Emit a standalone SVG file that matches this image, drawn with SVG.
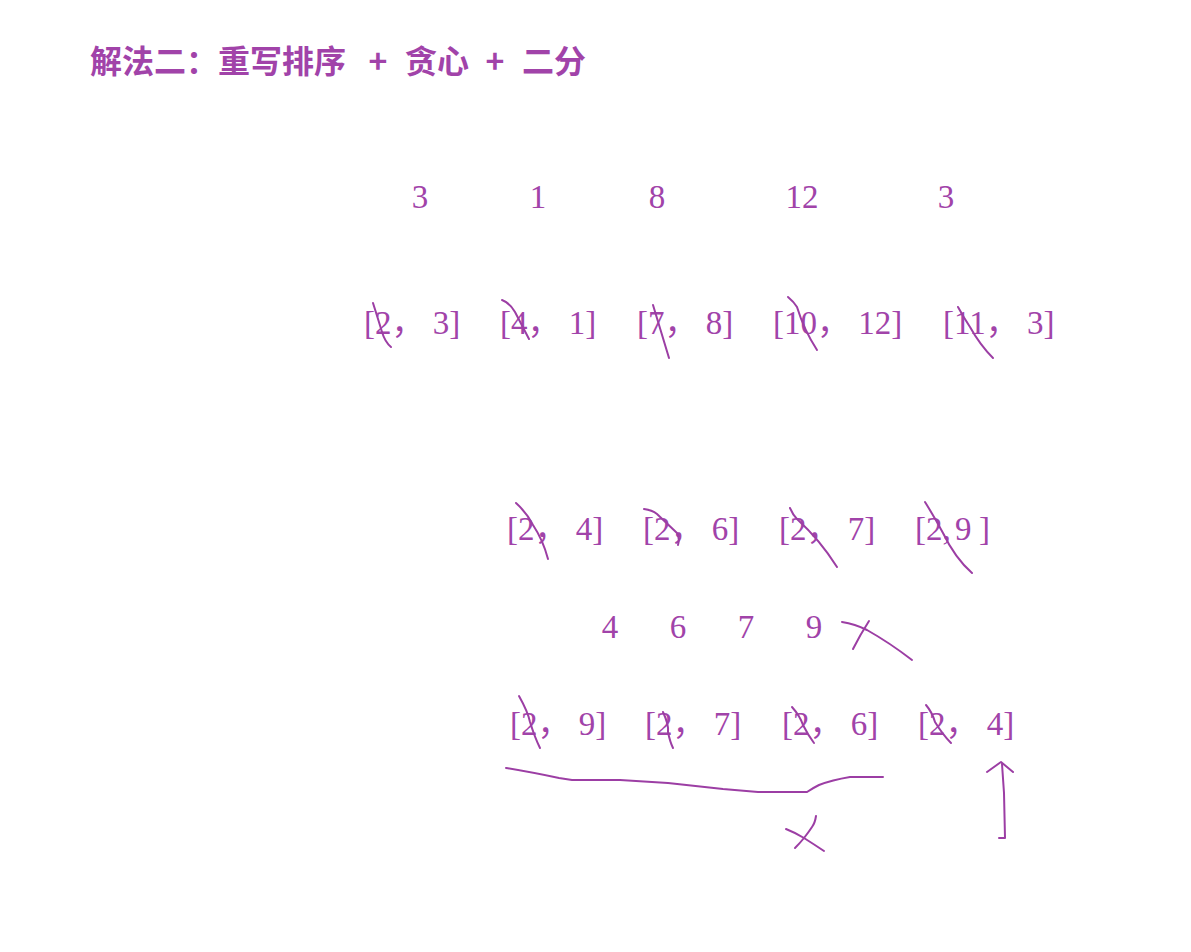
<svg xmlns="http://www.w3.org/2000/svg" width="1191" height="952" viewBox="0 0 1191 952">
<style>
.t{font-family:"Liberation Serif","Noto Sans CJK SC",serif;font-size:33px;fill:#a143a9}
.h{font-family:"Noto Sans CJK SC",sans-serif;font-size:32px;font-weight:700;fill:#a143a9}
.s{fill:none;stroke:#9c3ea4;stroke-width:2;stroke-linecap:round;stroke-linejoin:round}
</style>
<rect width="1191" height="952" fill="#ffffff"/>
<g id="title">
<text class="h" x="90" y="73">解法二：重写排序</text>
<text class="h" x="378" y="73" text-anchor="middle">+</text>
<text class="h" x="405" y="73">贪心</text>
<text class="h" x="495" y="73" text-anchor="middle">+</text>
<text class="h" x="522" y="73">二分</text>
</g>
<g id="row1">
<text class="t" x="420" y="208" text-anchor="middle">3</text>
<text class="t" x="538" y="208" text-anchor="middle">1</text>
<text class="t" x="657" y="208" text-anchor="middle">8</text>
<text class="t" x="802" y="208" text-anchor="middle">12</text>
<text class="t" x="946" y="208" text-anchor="middle">3</text>
</g>
<g id="row2">
<text class="t" x="364" y="334">[2， 3]</text>
<text class="t" x="500" y="334">[4， 1]</text>
<text class="t" x="637" y="334">[7， 8]</text>
<text class="t" x="773" y="334">[10， 12]</text>
<text class="t" x="943" y="334">[11， 3]</text>
</g>
<g id="row3">
<text class="t" x="507" y="540">[2， 4]</text>
<text class="t" x="643" y="540">[2， 6]</text>
<text class="t" x="779" y="540">[2， 7]</text>
<text class="t" x="915" y="540">[2,<tspan x="955">9</tspan><tspan x="979">]</tspan></text>
</g>
<g id="row4">
<text class="t" x="610" y="638" text-anchor="middle">4</text>
<text class="t" x="678" y="638" text-anchor="middle">6</text>
<text class="t" x="746" y="638" text-anchor="middle">7</text>
<text class="t" x="814" y="638" text-anchor="middle">9</text>
</g>
<g id="row5">
<text class="t" x="510" y="735">[2， 9]</text>
<text class="t" x="645" y="735">[2， 7]</text>
<text class="t" x="782" y="735">[2， 6]</text>
<text class="t" x="918" y="735">[2， 4]</text>
</g>
<g id="strokes">
<path class="s" d="M373,303 Q379,322 382,332 Q385,342 391,347"/>
<path class="s" d="M502,300 Q510,303 515,312 L529,339"/>
<path class="s" d="M653,305 L669,358"/>
<path class="s" d="M788,297 Q794,302 797,307 Q804,330 817,350"/>
<path class="s" d="M958,307 Q964,318 970,327 Q980,345 993,358"/>
<path class="s" d="M516,503 Q527,513 533,525 Q543,540 548,559"/>
<path class="s" d="M644,509 Q652,510 657,514 L677,533 Q680,538 678,545"/>
<path class="s" d="M790,508 Q793,515 797,519 Q820,540 837,567"/>
<path class="s" d="M925,502 Q935,518 943,533 Q955,558 972,573"/>
<path class="s" d="M842,622 Q855,624 867,630 Q890,643 912,660"/>
<path class="s" d="M869,621 Q860,635 853,649"/>
<path class="s" d="M519,696 Q528,712 530,722 Q535,738 540,748"/>
<path class="s" d="M663,712 Q669,725 668,732 Q670,742 673,748"/>
<path class="s" d="M792,707 Q800,716 803,725 Q808,735 814,743"/>
<path class="s" d="M926,705 Q932,712 935,722 Q943,735 951,743"/>
<path class="s" d="M506,768 Q530,772 559,778 L572,780 L620,780 L668,783 L723,789 L758,792 L807,792 Q813,788 819,785 Q832,780 850,777 L883,777"/>
<path class="s" d="M987,772 L1001,762 L1013,772"/>
<path class="s" d="M1002,764 L1004,793 L1005,838 L999,838"/>
<path class="s" d="M786,829 Q796,833 804,838 Q815,845 824,851"/>
<path class="s" d="M816,816 Q815,823 812,827 Q808,833 804,838 Q800,843 795,848"/>
</g>
</svg>
